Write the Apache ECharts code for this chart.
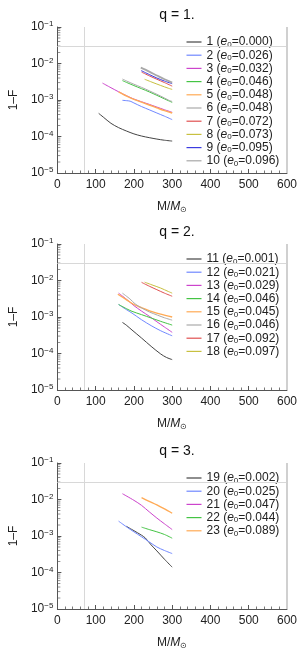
<!DOCTYPE html>
<html><head><meta charset="utf-8">
<script src="https://cdn.jsdelivr.net/npm/echarts@6/dist/echarts.min.js"></script>
<style>html,body{margin:0;padding:0;background:#fff}#c{width:300px;height:652px}</style>
</head><body><div id="c"></div>
<script>
// ---- data (M/Msun, 1-F) ----
const titles = ['q = 1.', 'q = 2.', 'q = 3.'];
const xTicks = [0, 100, 200, 300, 400, 500, 600];
const yTicks = [1e-5, 1e-4, 1e-3, 1e-2, 1e-1];
const yMinorTicks = [2e-5,3e-5,4e-5,5e-5,6e-5,7e-5,8e-5,9e-5,
                     2e-4,3e-4,4e-4,5e-4,6e-4,7e-4,8e-4,9e-4,
                     2e-3,3e-3,4e-3,5e-3,6e-3,7e-3,8e-3,9e-3,
                     2e-2,3e-2,4e-2,5e-2,6e-2,7e-2,8e-2,9e-2];
const ecc = ['0.000','0.026','0.032','0.046','0.048','0.048','0.072','0.073','0.095','0.096',
             '0.001','0.021','0.029','0.046','0.045','0.046','0.092','0.097',
             '0.002','0.025','0.047','0.044','0.089'];
// panel q=1
const c1 = [[108,4.3e-4],[120,3.4e-4],[140,2.3e-4],[160,1.75e-4],[180,1.42e-4],[200,1.18e-4],[220,1.03e-4],[240,9.3e-5],[260,8.5e-5],[280,7.9e-5],[300,7.5e-5]];
const c2 = [[170,9.8e-4],[180,9.6e-4],[190,9.3e-4],[200,8.3e-4],[220,6.6e-4],[240,5.4e-4],[260,4.4e-4],[280,3.6e-4],[300,2.9e-4]];
const c3 = [[118,2.9e-3],[140,2.17e-3],[160,1.68e-3],[180,1.32e-3],[200,1.06e-3],[220,8.95e-4],[240,7.6e-4],[260,6.4e-4],[280,5.4e-4],[300,4.6e-4]];
const c4 = [[170,3.4e-3],[190,2.75e-3],[210,2.25e-3],[230,1.85e-3],[250,1.5e-3],[270,1.2e-3],[290,9.6e-4],[300,8.6e-4]];
const c5 = [[160,1.68e-3],[180,1.3e-3],[200,1.04e-3],[220,8.7e-4],[240,7.3e-4],[260,6.1e-4],[280,5.1e-4],[300,4.4e-4]];
const c6 = [[170,3.75e-3],[190,3.0e-3],[210,2.45e-3],[230,2.0e-3],[250,1.6e-3],[270,1.28e-3],[290,1.0e-3],[300,9.1e-4]];
const c7 = [[220,5.8e-3],[240,4.6e-3],[260,3.7e-3],[280,3.0e-3],[300,2.4e-3]];
const c8 = [[228,3.7e-3],[250,3.0e-3],[270,2.5e-3],[290,2.1e-3],[300,1.95e-3]];
const c9 = [[219,6.4e-3],[240,5.0e-3],[260,4.0e-3],[280,3.3e-3],[300,2.8e-3]];
const c10 = [[218,7.7e-3],[240,6.0e-3],[260,4.7e-3],[280,3.7e-3],[300,3.0e-3]];
// panel q=2
const c11 = [[170,7.1e-4],[180,6.0e-4],[195,4.4e-4],[220,2.65e-4],[245,1.57e-4],[270,9.7e-5],[285,7.8e-5],[300,6.8e-5]];
const c12 = [[160,2.2e-3],[180,1.6e-3],[195,1.28e-3],[220,8.4e-4],[245,5.8e-4],[270,4.2e-4],[300,3.05e-4]];
const c13 = [[160,4.5e-3],[180,3.1e-3],[200,2.05e-3],[220,1.45e-3],[240,1.05e-3],[260,7.4e-4],[280,5.3e-4],[300,3.8e-4]];
const c14 = [[160,2.2e-3],[180,1.7e-3],[195,1.43e-3],[220,1.16e-3],[245,9.4e-4],[270,7.6e-4],[300,6.0e-4]];
const c15 = [[158,4.2e-3],[180,3.0e-3],[200,2.2e-3],[220,1.8e-3],[245,1.43e-3],[270,1.2e-3],[300,1.0e-3]];
const c16 = [[170,4.5e-3],[190,3.1e-3],[203,2.3e-3],[220,1.77e-3],[240,1.38e-3],[262,1.12e-3],[280,9.5e-4],[300,8.2e-4]];
const c17 = [[220,8.9e-3],[240,7.0e-3],[260,5.6e-3],[280,4.5e-3],[300,3.7e-3]];
const c18 = [[228,9.0e-3],[250,7.4e-3],[270,6.2e-3],[290,5.0e-3],[300,4.5e-3]];
// panel q=3
const c19 = [[180,1.85e-3],[200,1.4e-3],[220,1.05e-3],[230,8.8e-4],[245,5.7e-4],[260,3.9e-4],[280,2.3e-4],[300,1.4e-4]];
const c20 = [[160,2.55e-3],[180,1.8e-3],[200,1.3e-3],[220,9.5e-4],[240,6.9e-4],[260,5.0e-4],[280,4.0e-4],[300,3.3e-4]];
const c21 = [[170,1.44e-2],[200,9.5e-3],[220,6.9e-3],[240,4.6e-3],[260,3.1e-3],[280,2.15e-3],[300,1.5e-3]];
const c22 = [[220,1.75e-3],[240,1.5e-3],[260,1.3e-3],[280,1.1e-3],[300,8.7e-4]];
const c23 = [[220,1.12e-2],[240,8.9e-3],[260,7.1e-3],[280,5.5e-3],[300,4.2e-3]];
const refM = 70, refF = 0.03, xMin = 0, xMax = 600;

const panels = [[c1,c2,c3,c4,c5,c6,c7,c8,c9,c10],[c11,c12,c13,c14,c15,c16,c17,c18],[c19,c20,c21,c22,c23]];
const colors = ['#444444','#7088ff','#cc44cc','#44c444','#ffaa55','#aaaaaa','#e05050','#c8c040','#3c3ce0','#a8a8a8'];
const widths = [1,1,1,1,1.4,1,1,1,1,1.8];

const tops = [27, 244, 463];
const heights = [146, 146, 146];
const FONT = 'Liberation Sans, Arial, sans-serif';

const grid=[], xAxis=[], yAxis=[], series=[], legend=[], title=[];

let id = 1;
panels.forEach((curves, p) => {
  grid.push({left:53, top:tops[p], width:237, height:heights[p]});
  title.push({text:titles[p], left:172, top:tops[p]-23.5, textAlign:'center',
    textStyle:{fontFamily:FONT, fontSize:14, fontWeight:'normal', color:'#111'}});
  xAxis.push({type:'value', gridIndex:p, min:xMin, max:xMax, interval:100,
    name:'M/{i|M}{s|⊙}', nameLocation:'middle', nameGap:27,
    nameTextStyle:{fontFamily:FONT, fontSize:12, color:'#222',
      rich:{i:{fontFamily:FONT,fontSize:12,fontStyle:'italic',color:'#222'}, s:{fontFamily:FONT,fontSize:8,color:'#222',verticalAlign:'bottom',lineHeight:14}}},
    axisLine:{lineStyle:{color:'#555', width:1}},
    axisTick:{inside:true, length:4, lineStyle:{color:'#555'}},
    minorTick:{show:true, splitNumber:5, length:2.5, lineStyle:{color:'#777'}},
    axisLabel:{fontFamily:FONT, fontSize:12, color:'#222', margin:6},
    splitLine:{show:false}
  });
  yAxis.push({type:'log', gridIndex:p, min:1e-5, max:1e-1, logBase:10, position:'left',
    name:'1–F', nameLocation:'middle', nameGap:33, nameRotate:90,
    nameTextStyle:{fontFamily:FONT, fontSize:12, color:'#222'},
    axisLine:{show:true, lineStyle:{color:'#555', width:1}},
    axisTick:{inside:true, length:4, lineStyle:{color:'#555'}},
    axisLabel:{margin:4, formatter:v => '{b|10}{s|−' + Math.round(-Math.log10(v)) + '}',
      rich:{b:{fontFamily:FONT,fontSize:12,color:'#222',lineHeight:14}, s:{fontFamily:FONT,fontSize:8,color:'#222',verticalAlign:'top',lineHeight:14}}},
    splitLine:{show:false}
  });
  const names = [];
  curves.forEach((c, i) => {
    const nm = id + ' (e0=' + ecc[id-1] + ')';
    names.push(nm);
    const s = {type:'line', name:nm, xAxisIndex:p, yAxisIndex:p, data:c,
      symbol:'none', smooth:0.3, color:colors[i],
      lineStyle:{color:colors[i], width:widths[i]}, z:3, animation:false};
    if (i===0) s.markLine = {silent:true, symbol:'none', label:{show:false}, animation:false,
      lineStyle:{color:'#d8d8d8', width:1, type:'solid'},
      data:[{xAxis:refM},{yAxis:refF},{xAxis:xMax, lineStyle:{color:'#d0d0d0', width:2}}]};
    series.push(s);
    id++;
  });
  // logarithmic minor ticks of the y axis, drawn inward from the axis (x = xMin)
  series.push({type:'scatter', name:'minor'+p, xAxisIndex:p, yAxisIndex:p,
    data:yMinorTicks.map(v => [xMin, v]), symbol:'rect', symbolSize:[2.5,1], symbolOffset:[1.75,0],
    itemStyle:{color:'#777'}, silent:true, clip:false, z:4, animation:false});
  legend.push({data:names, orient:'vertical', left:181.5, top:tops[p]+4,
    itemWidth:15, itemHeight:1.2, itemGap:0.7, icon:'rect', selectedMode:false,
    formatter: name => { const m = name.match(/^(\d+) \(e0=(.*)\)$/); return '{a|'+m[1]+' (}{e|e}{s|0}{a|='+m[2]+')}'; },
    textStyle:{fontFamily:FONT, fontSize:12, color:'#222',
      rich:{a:{fontFamily:FONT,fontSize:12,color:'#222',lineHeight:13},
            e:{fontFamily:FONT,fontSize:12,fontStyle:'italic',color:'#222',lineHeight:13},
            s:{fontFamily:FONT,fontSize:8,color:'#222',verticalAlign:'bottom',lineHeight:13}}}
  });
});

const chart = echarts.init(document.getElementById('c'), null, {renderer:'canvas'});
chart.setOption({animation:false, backgroundColor:'#fff', title, grid, xAxis, yAxis, series, legend});
</script></body></html>
